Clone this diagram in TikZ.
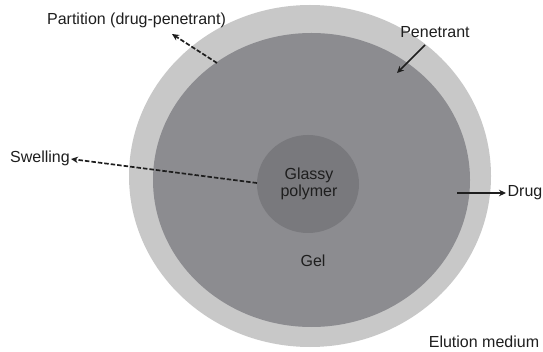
\documentclass[tikz,border=0pt]{standalone}
\usepackage{fontspec}
\setmainfont{Liberation Sans}
\usetikzlibrary{arrows.meta}
\definecolor{ringgray}{RGB}{200,200,200}
\definecolor{gelgray}{RGB}{140,140,144}
\definecolor{glassgray}{RGB}{121,121,125}
\definecolor{txt}{RGB}{30,30,30}
\begin{document}
\begin{tikzpicture}[x=1pt,y=-1pt,
  lbl/.style={anchor=base,inner sep=0pt,text=txt,font=\fontsize{16}{18}\selectfont},
  arr/.style={draw=txt,line width=1.7pt,-{Stealth[length=7pt,width=6.5pt]}},
  darr/.style={arr,dash pattern=on 4.5pt off 2pt}]
\useasboundingbox (0,0) rectangle (543,352);
% layers
\fill[ringgray] (310,176) ellipse [x radius=181, y radius=171];
\fill[gelgray] (311.5,180) ellipse [x radius=158.5, y radius=147];
\fill[glassgray] (308,184) ellipse [x radius=51, y radius=49];
% labels
\node[lbl] (glassy1) at (309,180) {Glassy};
\node[lbl] (glassy2) at (309,197) {polymer};
\node[lbl] (gel) at (313,267) {Gel};
\node[lbl] (partition) at (136.5,25) {Partition (drug-penetrant)};
\node[lbl] (swelling) at (40,163) {Swelling};
\node[lbl] (penetrant) at (435,38) {Penetrant};
\node[lbl] (drug) at (525,197) {Drug};
\node[lbl] (elution) at (484,347) {Elution medium};
% connector ends
\coordinate (partA) at (217,63);
\coordinate (partB) at (172,34);
\coordinate (swA) at (257,183);
\coordinate (swB) at (71,159);
\coordinate (penA) at (425,45);
\coordinate (penB) at (397,73);
\coordinate (drA) at (457,193);
\coordinate (drB) at (506,193);
% connectors
\draw[darr] (partA) -- (partB);
\draw[darr] (swA) -- (swB);
\draw[arr] (penA) -- (penB);
\draw[arr] (drA) -- (drB);
\end{tikzpicture}
\end{document}
